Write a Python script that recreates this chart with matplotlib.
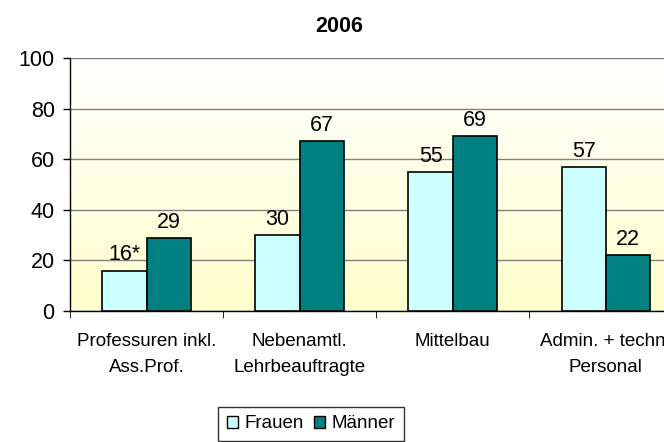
import matplotlib
matplotlib.use("Agg")
import matplotlib.pyplot as plt
import numpy as np
from matplotlib.patches import Patch

plt.rcParams['font.family'] = ['Liberation Sans', 'DejaVu Sans']

categories = ["Professuren inkl.\nAss.Prof.", "Nebenamtl.\nLehrbeauftragte", "Mittelbau", "Admin. + techn.\nPersonal"]
frauen = [16, 30, 55, 57]
maenner = [29, 67, 69, 22]
frauen_labels = ["16*", "30", "55", "57"]
maenner_labels = ["29", "67", "69", "22"]
series_names = ["Frauen", "Männer"]
yticks = [0, 20, 40, 60, 80, 100]

W, H = 664, 442
fig = plt.figure(figsize=(W/100, H/100), dpi=100)
left, right, top, bottom = 70, 682.5, 58, 311
ax = fig.add_axes([left/W, (H-bottom)/H, (right-left)/W, (bottom-top)/H])

# gradient background
grad = np.linspace(0, 1, 256).reshape(-1, 1)
c_top = np.array([1.0, 1.0, 1.0])
c_bot = np.array([1.0, 1.0, 0.80])
img = c_bot[None, None, :] * (1 - grad[:, :, None]) + c_top[None, None, :] * grad[:, :, None]
ax.imshow(img, extent=[-0.5, 3.5, 0, 100], aspect='auto', origin='lower', zorder=0)

x = np.arange(len(categories))
bw = 0.29
ax.bar(x - bw/2, frauen, bw, color="#CCFFFF", edgecolor="black", linewidth=1.2, zorder=3)
ax.bar(x + bw/2, maenner, bw, color="#008080", edgecolor="black", linewidth=1.2, zorder=3)

for xi, v, t in zip(x, frauen, frauen_labels):
    ax.text(xi - bw/2, v + 2.0, t, ha='center', va='bottom', fontsize=15.5)
for xi, v, t in zip(x, maenner, maenner_labels):
    ax.text(xi + bw/2, v + 2.0, t, ha='center', va='bottom', fontsize=15.5)

ax.set_xlim(-0.5, 3.5)
ax.set_ylim(0, 100)
ax.set_yticks(yticks)
ax.set_yticklabels([str(v) for v in yticks], fontsize=15.5)
ax.yaxis.grid(True, color="#808080", linewidth=1, zorder=1)
ax.set_axisbelow(True)

ax.set_xticks(x)
ax.set_xticklabels(categories, fontsize=13.5, linespacing=1.65)
ax.tick_params(axis='x', length=0, pad=16)
ax.set_xticks([-0.5, 0.5, 1.5, 2.5], minor=True)
ax.tick_params(axis='x', which='minor', length=5, direction='out')
ax.tick_params(axis='y', length=5, direction='out', width=1, pad=6)

for s in ['top', 'right']:
    ax.spines[s].set_visible(False)
ax.spines['left'].set_linewidth(1)
ax.spines['bottom'].set_linewidth(1)

fig.text(339 / W, (H - 27) / H, "2006", ha='center', va='center',
         fontsize=15.5, fontweight='bold')

handles = [Patch(facecolor="#CCFFFF", edgecolor="black"), Patch(facecolor="#008080", edgecolor="black")]
leg = fig.legend(handles, series_names, loc='center', bbox_to_anchor=(311/W, (H-424)/H),
                 ncol=2, frameon=True, fancybox=False, fontsize=13.5,
                 handlelength=0.6, handleheight=0.6, handletextpad=0.35, columnspacing=0.55,
                 borderpad=0.45, borderaxespad=0)
leg.get_frame().set_edgecolor('black')
leg.get_frame().set_linewidth(1)

fig.savefig("out.png", dpi=100)
